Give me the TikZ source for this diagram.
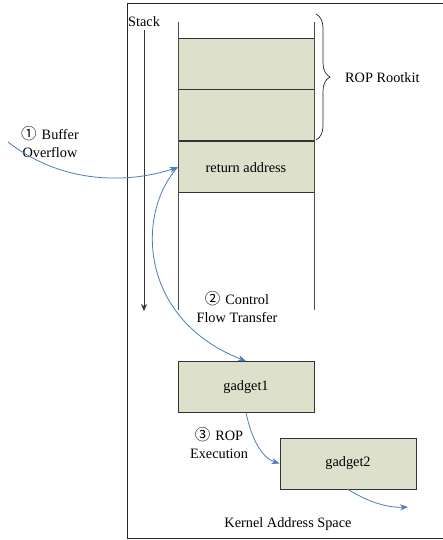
\documentclass[tikz,border=0pt]{standalone}
\usepackage{fontspec}
\setmainfont{Liberation Serif}
\newfontfamily\cjk{Noto Sans CJK SC}
\usepackage{tikz}
\usetikzlibrary{arrows.meta}
\usetikzlibrary{decorations.pathreplacing}
\usetikzlibrary{positioning}
\definecolor{cellfill}{RGB}{221,225,204}
\definecolor{flowblue}{RGB}{74,126,187}
\newcommand{\stepno}[1]{{\cjk\fontsize{15.5}{18}\selectfont #1}\hspace{5pt}}
\tikzset{
	cell/.style={draw=black!80, line width=0.9pt, fill=cellfill, minimum width=136, minimum height=51, inner sep=0},
	flow/.style={draw=flowblue, line width=0.8pt, -{Stealth[length=8pt,width=6pt]}},
	note/.style={align=center, inner sep=0},
}

\begin{document}
\begin{tikzpicture}[x=1pt, y=-1pt, font=\fontsize{14.3}{18}\selectfont]
	\useasboundingbox (0,0) rectangle (442,540);
	\draw[black!85, line width=1pt] (127,4) rectangle (460,538);

	% stack
	\node[anchor=west, inner sep=0] (stack) at (128,22) {Stack};
	\coordinate (s1) at (144,30);
	\coordinate (s2) at (144,311);
	\draw[black!80, line width=0.8pt, -{Stealth[length=7pt,width=6pt]}] (s1) -- (s2);

	\node[cell] (top) at (246,63.5) {};
	\node[cell, below=0pt of top] (mid) {};
	\node[cell, below=0pt of mid] (ret) {return address};
	\draw[black!70, line width=0.8pt] (178,22) -- (178,310);
	\draw[black!70, line width=0.8pt] (314,22) -- (314,310);

	\draw[black!85, line width=0.7pt, decorate, decoration={brace, amplitude=14pt}] (316,14) coordinate (bt) -- (316,140) coordinate (bb);
	\node[anchor=west, inner sep=0] (rootkit) at (345,78) {ROP Rootkit};

	% gadgets
	\node[cell] (g1) at (246,387) {gadget1};
	\node[cell] (g2) at (348,463.5) {gadget2};

	% flows
	\coordinate (in) at (8,142);
	\node[note] (bo) at (50,142) {\stepno{①}Buffer\\Overflow};
	\draw[flow] (in) .. controls (70,190) and (140,180) .. (ret.west);

	\node[note] (cf) at (237,307) {\stepno{②}Control\\Flow Transfer};
	\draw[flow] (ret.west) .. controls (135,215) and (140,320) .. (g1.north);

	\node[note] (re) at (219,443) {\stepno{③}ROP\\Execution};
	\draw[flow] (g1.south) .. controls (252,440) and (262,458) .. (g2.west);

	\coordinate (out) at (408,507);
	\draw[flow] (g2.south) .. controls (365,500) and (385,508) .. (out);

	\node[inner sep=0] (kas) at (288,524) {Kernel Address Space};
\end{tikzpicture}
\end{document}
